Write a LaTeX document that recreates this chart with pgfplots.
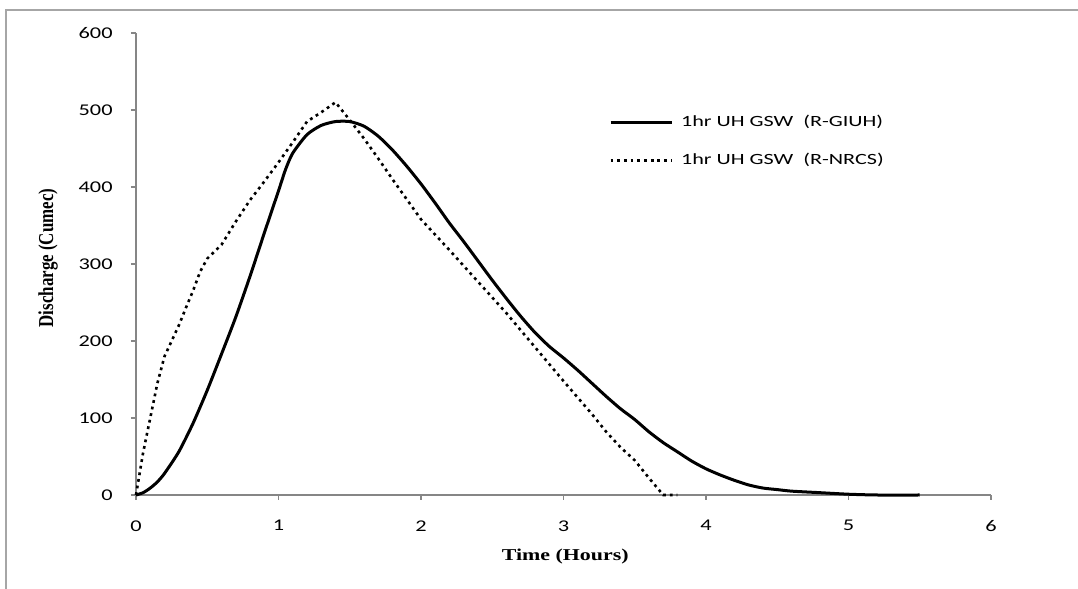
\documentclass[border=0pt]{standalone}
\usepackage{fontspec}
\usepackage{pgfplots}
\pgfplotsset{compat=1.18}
\setmainfont{Carlito}
\newfontfamily\tickfont[FakeStretch=1.36]{Carlito}
\newfontfamily\legfont[FakeStretch=1.42]{Carlito}
\newfontfamily\labfont[FakeStretch=1.32]{Liberation Serif}
\newfontfamily\ylabfont{Liberation Serif}
\definecolor{axisgray}{HTML}{868686}
\definecolor{framegray}{HTML}{A6A6A6}

\begin{document}
\begin{tikzpicture}[x=1pt,y=1pt]
\useasboundingbox (0,0) rectangle (539,294.5);
\draw[color=framegray, line width=1pt] (3,0) -- (3,289.5) -- (539,289.5);
\begin{axis}[
  at={(68pt,47pt)}, anchor=south west,
  width=427.5pt, height=231pt, scale only axis,
  xmin=0, xmax=6, ymin=0, ymax=600,
  axis x line*=bottom, axis y line*=left,
  axis line style={color=axisgray, line width=0.7pt},
  xtick={0,1,2,3,4,5,6}, ytick={0,100,200,300,400,500,600},
  tick align=outside, major tick length=2.5pt,
  tick style={color=axisgray, line width=0.7pt},
  xticklabel style={font=\tickfont\fontsize{8.2}{10}\selectfont, anchor=north, inner sep=0pt, yshift=-10pt},
  yticklabel style={font=\tickfont\fontsize{8.2}{10}\selectfont, anchor=east, inner sep=0pt, xshift=-9pt},
  /pgf/number format/assume math mode=true,
  xlabel={\labfont\bfseries\fontsize{8.3}{10}\selectfont Time (Hours)},
  xlabel style={at={(axis description cs:0.502,-0.1407)}, anchor=base},
  ylabel={\scalebox{1.02}[1.28]{\ylabfont\bfseries\fontsize{8.3}{10}\selectfont Discharge (Cumec)}},
  ylabel style={at={(axis description cs:-0.097,0.513)}, anchor=base, rotate=0},
  legend style={draw=none, fill=none, at={(axis cs:3.317,459)}, anchor=west, inner sep=0pt,
    font=\legfont\fontsize{7.8}{9}\selectfont, row sep=12.2pt, column sep=4pt,
    nodes={inner sep=0pt, text height=5.5pt, text depth=1.5pt}},
  legend cell align=left,
  legend image code/.code={\draw[#1] (0pt,0pt) -- (30.5pt,0pt);},
  clip=false,
]
\addplot[black, line width=1.5pt, smooth, tension=0.4] coordinates {
(0,0) (0.05,3) (0.1,9) (0.15,17) (0.2,28) (0.3,56) (0.4,93) (0.5,136) (0.6,183)
(0.7,231) (0.8,284) (0.9,340) (1.0,395) (1.05,423) (1.1,444) (1.2,468) (1.3,480)
(1.4,485) (1.5,485) (1.6,479) (1.7,466) (1.8,448) (1.9,427) (2.0,404) (2.1,379)
(2.2,353) (2.3,329) (2.4,304) (2.5,279) (2.6,255) (2.7,232) (2.8,211) (2.9,193)
(3.0,178) (3.1,162) (3.2,145) (3.3,128) (3.4,112) (3.5,98) (3.6,82) (3.7,68)
(3.8,56) (3.9,44) (4.0,34) (4.1,26) (4.2,19) (4.3,13) (4.4,9) (4.5,7) (4.6,5)
(4.8,3) (5.0,1) (5.2,0) (5.5,0)
};
\addlegendentry{1hr UH GSW\ \ (R-GIUH)}
\addplot[black, line width=1.3pt, dash pattern=on 1.4pt off 1.95pt] coordinates {
(0,0) (0.05,55) (0.1,100) (0.15,145) (0.2,180) (0.25,200) (0.3,220) (0.35,243)
(0.4,265) (0.45,290) (0.5,307) (0.6,325) (0.7,355) (0.8,383) (0.9,407) (1.0,432)
(1.1,458) (1.2,485) (1.3,497) (1.4,510) (1.5,487) (1.6,463) (1.7,437) (1.8,410)
(1.9,384) (2.0,358) (2.2,318) (2.4,277) (2.6,236) (2.8,192) (3.0,148) (3.2,105)
(3.3,82) (3.4,62) (3.5,45) (3.6,22) (3.7,0) (3.8,0)
};
\addlegendentry{1hr UH GSW\ \ (R-NRCS)}
\end{axis}
\end{tikzpicture}
\end{document}
